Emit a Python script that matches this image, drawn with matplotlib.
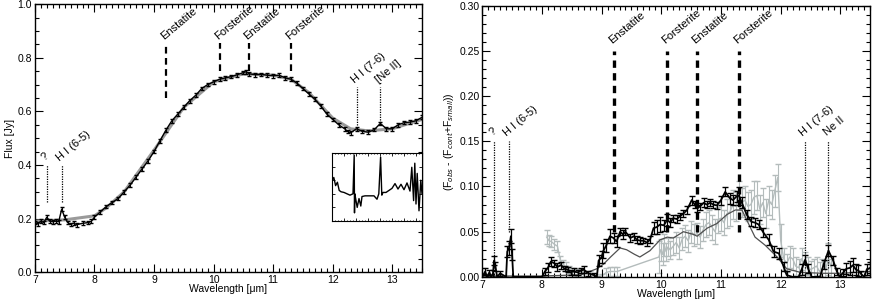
import numpy as np
import matplotlib
matplotlib.use('Agg')
import matplotlib.pyplot as plt
from matplotlib.ticker import MultipleLocator

plt.rcParams['font.family'] = ['Liberation Sans', 'DejaVu Sans']
plt.rcParams['font.size'] = 7.5
plt.rcParams['mathtext.fontset'] = 'custom'
plt.rcParams['mathtext.rm'] = 'Liberation Sans'

# --- left panel: observed spectrum and model ---
wl_obs = [7.0, 7.05, 7.1, 7.15, 7.2, 7.25, 7.3, 7.35, 7.4, 7.45, 7.5, 7.55, 7.6, 7.65,
          7.7, 7.8, 7.9, 7.95, 8.0, 8.1, 8.2, 8.3, 8.4, 8.5, 8.6, 8.7, 8.8, 8.9, 9.0,
          9.1, 9.2, 9.3, 9.4, 9.5, 9.6, 9.7, 9.8, 9.9, 10.0, 10.1, 10.2, 10.3, 10.4,
          10.5, 10.55, 10.6, 10.7, 10.8, 10.9, 11.0, 11.1, 11.2, 11.3, 11.4, 11.5,
          11.6, 11.7, 11.8, 11.9, 12.0, 12.1, 12.2, 12.25, 12.3, 12.4, 12.5, 12.6,
          12.7, 12.8, 12.9, 13.0, 13.1, 13.2, 13.3, 13.4, 13.5]
flux_obs = [0.185, 0.18, 0.19, 0.185, 0.205, 0.19, 0.188, 0.19, 0.188, 0.235, 0.205,
            0.185, 0.178, 0.183, 0.177, 0.182, 0.185, 0.19, 0.205, 0.225, 0.245, 0.26,
            0.275, 0.3, 0.325, 0.355, 0.385, 0.415, 0.45, 0.49, 0.53, 0.565, 0.59,
            0.615, 0.64, 0.66, 0.685, 0.7, 0.71, 0.72, 0.725, 0.73, 0.737, 0.745,
            0.748, 0.74, 0.737, 0.738, 0.735, 0.733, 0.735, 0.725, 0.72, 0.705, 0.685,
            0.665, 0.645, 0.62, 0.59, 0.57, 0.55, 0.535, 0.525, 0.52, 0.535, 0.525,
            0.522, 0.532, 0.555, 0.535, 0.535, 0.55, 0.558, 0.56, 0.565, 0.578]
wl_mod = [7.0, 7.5, 8.0, 8.2, 8.5, 9.0, 9.5, 10.0, 10.5, 11.0, 11.3, 11.6, 12.0, 12.3,
          12.6, 13.0, 13.5]
flux_mod = [0.19, 0.195, 0.21, 0.24, 0.3, 0.455, 0.615, 0.71, 0.74, 0.735, 0.72, 0.67,
            0.575, 0.535, 0.527, 0.535, 0.57]

# inset: high resolution spectrum 12-13.5 um (relative units)
wl_ins = [12.0, 12.03, 12.06, 12.09, 12.12, 12.15, 12.2, 12.25, 12.3, 12.35, 12.37,
          12.375, 12.38, 12.4, 12.42, 12.45, 12.48, 12.5, 12.55, 12.6, 12.7, 12.75,
          12.78, 12.81, 12.83, 12.85, 12.9, 12.95, 13.0, 13.05, 13.1, 13.15, 13.2,
          13.25, 13.3, 13.33, 13.36, 13.38, 13.4, 13.42, 13.45, 13.48, 13.5]
fl_ins = [0.59, 0.64, 0.52, 0.57, 0.45, 0.43, 0.42, 0.4, 0.38, 0.4, 0.97, 0.12, 0.4,
          0.3, 0.2, 0.33, 0.22, 0.36, 0.37, 0.37, 0.37, 0.32, 0.4, 0.94, 0.38, 0.42,
          0.42, 0.45, 0.48, 0.55, 0.47, 0.54, 0.46, 0.56, 0.44, 0.79, 0.3, 0.85, 0.25,
          0.7, 0.15, 0.6, 0.4]

# --- right panel: residual spectra ---
wl_res = [7.0, 7.05, 7.08, 7.12, 7.15, 7.18, 7.2, 7.22, 7.25, 7.3, 7.4, 7.42, 7.45,
          7.48, 7.5, 7.52, 7.6, 8.0, 8.05, 8.1, 8.15, 8.21, 8.26, 8.32, 8.38, 8.43,
          8.48, 8.53, 8.6, 8.65, 8.7, 8.78, 8.87, 8.92, 8.95, 9.0, 9.03, 9.08, 9.14,
          9.2, 9.25, 9.31, 9.36, 9.4, 9.48, 9.54, 9.59, 9.65, 9.7, 9.76, 9.81, 9.87,
          9.92, 9.98, 10.04, 10.1, 10.15, 10.2, 10.26, 10.31, 10.37, 10.43, 10.51,
          10.56, 10.6, 10.65, 10.71, 10.76, 10.82, 10.87, 10.93, 11.0, 11.07, 11.15,
          11.2, 11.26, 11.3, 11.35, 11.43, 11.51, 11.57, 11.63, 11.71, 11.8, 11.88,
          11.97, 12.05, 12.1, 12.2, 12.3, 12.35, 12.41, 12.46, 12.52, 12.6, 12.66,
          12.72, 12.8, 12.88, 12.94, 12.99, 13.05, 13.1, 13.16, 13.21, 13.26, 13.3,
          13.35, 13.4, 13.44, 13.5]
res_obs = [0.0, 0.006, 0.0, 0.005, 0.0, 0.004, 0.018, 0.012, 0.0, 0.004, 0.0, 0.028,
           0.032, 0.045, 0.025, 0.0, 0.0, 0.0, 0.006, 0.01, 0.017, 0.015, 0.011, 0.013,
           0.009, 0.008, 0.005, 0.006, 0.005, 0.007, 0.008, 0.004, 0.002, 0.0, 0.018,
           0.022, 0.029, 0.035, 0.045, 0.043, 0.039, 0.05, 0.047, 0.05, 0.043, 0.045,
           0.041, 0.04, 0.04, 0.038, 0.041, 0.054, 0.055, 0.058, 0.057, 0.063, 0.06,
           0.065, 0.064, 0.067, 0.07, 0.074, 0.085, 0.08, 0.076, 0.078, 0.082, 0.08,
           0.082, 0.08, 0.079, 0.085, 0.094, 0.087, 0.085, 0.089, 0.09, 0.082, 0.069,
           0.061, 0.06, 0.058, 0.049, 0.041, 0.028, 0.026, 0.011, 0.002, 0.0, 0.0,
           0.008, 0.019, 0.009, 0.0, 0.0, 0.0, 0.014, 0.029, 0.018, 0.006, 0.0, 0.005,
           0.009, 0.01, 0.013, 0.008, 0.007, 0.003, 0.0, 0.008, 0.01]
res_err = [0.003, 0.004, 0.0, 0.003, 0.0, 0.004, 0.005, 0.005, 0.0, 0.003, 0.0, 0.006,
           0.008, 0.008, 0.006, 0.0, 0.0, 0.0, 0.004, 0.005, 0.005, 0.004, 0.004, 0.004,
           0.003, 0.003, 0.003, 0.004, 0.003, 0.003, 0.004, 0.003, 0.002, 0.0, 0.006,
           0.007, 0.008, 0.007, 0.008, 0.006, 0.006, 0.004, 0.005, 0.004, 0.004, 0.004,
           0.004, 0.004, 0.003, 0.004, 0.004, 0.007, 0.008, 0.008, 0.006, 0.007, 0.005,
           0.004, 0.004, 0.004, 0.004, 0.004, 0.005, 0.004, 0.004, 0.004, 0.005, 0.004,
           0.004, 0.004, 0.004, 0.005, 0.005, 0.006, 0.006, 0.006, 0.01, 0.006, 0.005,
           0.005, 0.005, 0.005, 0.005, 0.006, 0.006, 0.006, 0.005, 0.004, 0.0, 0.0,
           0.006, 0.005, 0.005, 0.0, 0.0, 0.0, 0.005, 0.006, 0.005, 0.004, 0.0, 0.004,
           0.006, 0.008, 0.008, 0.006, 0.006, 0.004, 0.0, 0.006, 0.006]

wl_alt = [8.08, 8.12, 8.16, 8.21, 8.26, 8.31, 8.36, 8.4, 8.45, 8.51, 8.58, 8.68, 8.8,
          8.9, 9.0, 9.08, 9.14, 9.2, 9.26, 9.96, 9.99, 10.02, 10.05, 10.08, 10.11,
          10.15, 10.2, 10.25, 10.3, 10.35, 10.4, 10.45, 10.5, 10.55, 10.6, 10.65,
          10.7, 10.75, 10.8, 10.85, 10.9, 10.95, 11.0, 11.05, 11.1, 11.15, 11.2,
          11.25, 11.3, 11.35, 11.4, 11.45, 11.5, 11.55, 11.6, 11.65, 11.7, 11.75,
          11.8, 11.85, 11.9, 11.95, 12.0, 12.05, 12.1, 12.15, 12.2, 12.25, 12.3,
          12.35, 12.4, 12.45, 12.5, 12.55, 12.6, 12.65, 12.7, 12.75, 12.8, 12.85]
res_alt = [0.044, 0.04, 0.039, 0.036, 0.034, 0.018, 0.014, 0.011, 0.008, 0.006, 0.005,
           0.004, 0.003, 0.001, 0.001, 0.005, 0.006, 0.006, 0.006, 0.022, 0.03, 0.025,
           0.035, 0.028, 0.033, 0.03, 0.034, 0.038, 0.032, 0.042, 0.045, 0.04, 0.05,
           0.046, 0.048, 0.044, 0.052, 0.058, 0.06, 0.055, 0.05, 0.063, 0.065, 0.06,
           0.07, 0.072, 0.08, 0.078, 0.09, 0.082, 0.085, 0.078, 0.08, 0.088, 0.09,
           0.075, 0.082, 0.07, 0.085, 0.08, 0.095, 0.11, 0.04, 0.02, 0.015, 0.022,
           0.02, 0.012, 0.01, 0.02, 0.015, 0.012, 0.008, 0.01, 0.012, 0.006, 0.01,
           0.008, 0.02, 0.01]
alt_err = [0.008, 0.006, 0.006, 0.006, 0.006, 0.005, 0.005, 0.005, 0.004, 0.004,
           0.004, 0.003, 0.003, 0.002, 0.002, 0.005, 0.005, 0.005, 0.005, 0.018, 0.012,
           0.012, 0.012, 0.01, 0.01, 0.01, 0.01, 0.012, 0.012, 0.012, 0.012, 0.012,
           0.012, 0.012, 0.012, 0.012, 0.012, 0.014, 0.014, 0.014, 0.014, 0.014, 0.014,
           0.014, 0.016, 0.016, 0.016, 0.016, 0.016, 0.016, 0.016, 0.016, 0.016, 0.018,
           0.016, 0.016, 0.016, 0.016, 0.016, 0.016, 0.018, 0.015, 0.018, 0.012, 0.01,
           0.012, 0.012, 0.01, 0.01, 0.012, 0.012, 0.01, 0.01, 0.01, 0.01, 0.01, 0.01,
           0.01, 0.018, 0.01]

wl_fit = [7.0, 7.5, 8.0, 8.5, 8.64, 8.92, 9.03, 9.15, 9.31, 9.42, 9.55, 9.64, 9.81,
          9.98, 10.1, 10.2, 10.37, 10.54, 10.6, 10.77, 10.93, 11.1, 11.24, 11.35,
          11.46, 11.57, 11.74, 11.94, 12.1, 12.33, 12.7, 13.0, 13.5]
res_fit = [0.001, 0.001, 0.001, 0.002, 0.002, 0.009, 0.014, 0.022, 0.032, 0.030, 0.025,
           0.022, 0.029, 0.041, 0.044, 0.043, 0.050, 0.047, 0.045, 0.054, 0.059, 0.069,
           0.074, 0.074, 0.059, 0.044, 0.035, 0.022, 0.009, 0.005, 0.004, 0.004, 0.006]

# feature markers
dust_wl = [9.2, 10.1, 10.6, 11.3]
dust_names = ['Enstatite', 'Forsterite', 'Enstatite', 'Forsterite']
gas_wl = [7.2, 7.45, 12.4, 12.8]
gas_names_l = ['?', 'H I (6-5)', 'H I (7-6)', '[Ne II]']
gas_names_r = ['?', 'H I (6-5)', 'H I (7-6)', 'Ne II']


def style_axes(ax, ymaj, ymin):
    ax.set_xlim(7, 13.5)
    ax.xaxis.set_major_locator(MultipleLocator(1))
    ax.xaxis.set_minor_locator(MultipleLocator(0.1))
    ax.yaxis.set_major_locator(MultipleLocator(ymaj))
    ax.yaxis.set_minor_locator(MultipleLocator(ymin))
    ax.tick_params(which='both', direction='in', top=True, right=True, width=0.8)
    ax.tick_params(which='major', length=6, pad=2)
    ax.tick_params(which='minor', length=3)
    for s in ax.spines.values():
        s.set_linewidth(1.0)
    ax.set_xlabel('Wavelength [\u03bcm]', labelpad=-0.5)


def label(ax, x, y, txt):
    ax.text(x - 0.01, y, txt, rotation=40, rotation_mode='anchor',
            ha='left', va='bottom', fontsize=8)


fig = plt.figure(figsize=(8.72, 3.0), dpi=100)
ax1 = fig.add_axes([0.040, 0.093, 0.444, 0.893])
ax2 = fig.add_axes([0.553, 0.077, 0.445, 0.904])

# left panel
ax1.plot(wl_mod, flux_mod, color='#9a9a9a', lw=2.2, zorder=2)
ax1.errorbar(wl_obs, flux_obs, yerr=0.007, color='black', lw=1.0, elinewidth=0.8,
             capsize=1.5, zorder=3)
style_axes(ax1, 0.2, 0.05)
ax1.set_ylim(0, 1.0)
ax1.yaxis.set_major_formatter(plt.FormatStrFormatter('%.1f'))
ax1.set_ylabel('Flux [Jy]', labelpad=2)

for x, name in zip(dust_wl, dust_names):
    ybot = 0.65 if x < 9.5 else 0.75
    ax1.plot([x, x], [ybot, 0.855], color='black', lw=1.6, ls=(0, (3, 2)))
    label(ax1, x, 0.862, name)
for x, name in zip(gas_wl, gas_names_l):
    if x < 8:
        y0, y1 = 0.26, 0.40
    else:
        y0, y1 = 0.55, 0.69
    ax1.plot([x, x], [y0, y1], color='black', lw=0.9, ls=(0, (1, 1)))
    label(ax1, x, y1 + 0.008, name)

axin = fig.add_axes([332 / 872, 1 - 221 / 300, 90 / 872, 68 / 300])
axin.plot(wl_ins, fl_ins, color='black', lw=1.0)
axin.set_xlim(12, 13.5)
axin.set_ylim(0, 1)
axin.xaxis.set_major_locator(MultipleLocator(0.2))
axin.xaxis.set_minor_locator(MultipleLocator(0.05))
axin.yaxis.set_major_locator(MultipleLocator(0.2))
axin.tick_params(which='both', direction='in', top=True, right=True,
                 labelbottom=False, labelleft=False, length=2, width=0.6)
axin.tick_params(which='minor', length=1)

# right panel
ax2.errorbar(wl_alt, res_alt, yerr=alt_err, color='#b4bcbc', lw=1.0, elinewidth=0.8,
             capsize=2, zorder=1)
ax2.plot(wl_fit, res_fit, color='#505050', lw=0.9, zorder=2)
ax2.errorbar(wl_res, res_obs, yerr=res_err, color='black', lw=1.3, elinewidth=0.9,
             capsize=2, zorder=3)
style_axes(ax2, 0.05, 0.01)
ax2.set_ylim(0, 0.30)
ax2.yaxis.set_major_formatter(plt.FormatStrFormatter('%.2f'))
ax2.set_ylabel(r'(F$_{obs}$ - (F$_{cont}$+F$_{small}$))', labelpad=2)

for x, name in zip(dust_wl, dust_names):
    ax2.plot([x, x], [0.05, 0.25], color='black', lw=2.4, ls=(0, (2.2, 1.6)))
    label(ax2, x, 0.256, name)
for x, name in zip(gas_wl, gas_names_r):
    y0 = 0.05 if x == 7.45 else 0.01
    ax2.plot([x, x], [y0, 0.15], color='black', lw=0.9, ls=(0, (1, 1)))
    label(ax2, x, 0.154, name)

plt.savefig('out.png', dpi=100)
